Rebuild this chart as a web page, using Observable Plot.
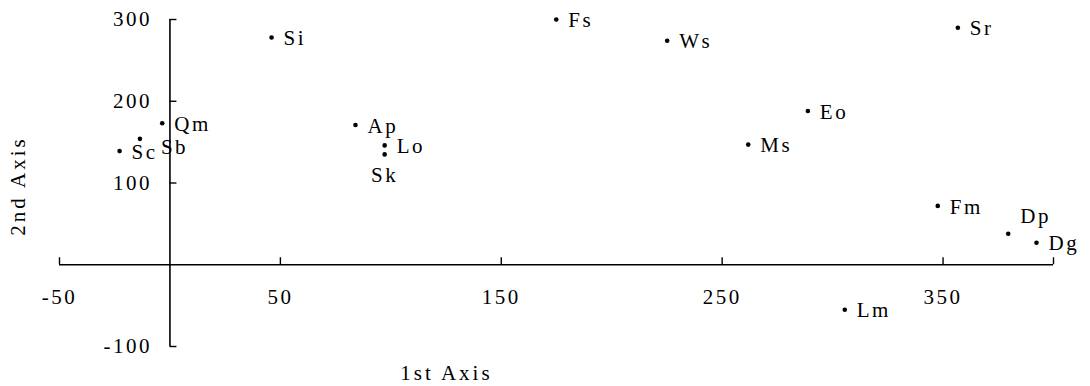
<!DOCTYPE html>
<html>
<head>
<meta charset="utf-8">
<script src="https://cdn.jsdelivr.net/npm/d3@7"></script>
<script src="https://cdn.jsdelivr.net/npm/@observablehq/plot@0.6"></script>
<style>
  html, body { margin: 0; padding: 0; background: #fff; }
  #chart svg { display: block; }
  g[aria-description="tick-label"] text { letter-spacing: 2.5px; }
  g[aria-description="point-label"] text { letter-spacing: 2.5px; }
  g[aria-description="axis-title"] text { letter-spacing: 3px; }
</style>
</head>
<body>
<div id="chart"></div>
<script>
// Data
const names  = ["Sc", "Sb", "Qm", "Si", "Ap", "Lo", "Sk", "Fs", "Ws", "Ms", "Eo", "Sr", "Fm", "Dp", "Dg", "Lm"];
const axis1  = [-22.8, -13.6, -3.5, 46.0, 84.0, 97.2, 97.2, 174.9, 225.1, 261.8, 288.8, 356.7, 347.6, 379.5, 392.3, 305.5];
const axis2  = [139, 154, 173, 278, 171, 146, 135, 300, 274, 147, 188, 290, 72, 38, 27, -55];
const xTicks = [-50, 50, 150, 250, 350];
const yTicks = [-100, 100, 200, 300];
const xDomain = [-50, 400];
const yDomain = [-100, 300];
const xTitle = "1st Axis";
const yTitle = "2nd Axis";

const points = names.map((n, i) => ({name: n, x: axis1[i], y: axis2[i]}));

// label placement groups (styling)
const below = ["Sk"];
const above = ["Dp"];
const shifted = ["Sb"];
const normal = points.filter(d => !below.includes(d.name) && !above.includes(d.name) && !shifted.includes(d.name));

const font = "'Liberation Serif', 'Times New Roman', serif";
const labelStyle = {fontSize: 21, fill: "black", ariaDescription: "point-label"};

const plot = Plot.plot({
  width: 1090,
  height: 386,
  marginLeft: 59,
  marginRight: 37,
  marginTop: 19,
  marginBottom: 40,
  style: {fontFamily: font, background: "white", overflow: "visible"},
  x: {domain: xDomain, axis: null},
  y: {domain: yDomain, axis: null},
  marks: [
    // axes lines
    Plot.ruleY([0], {x1: xDomain[0], x2: xDomain[1], stroke: "black", strokeWidth: 1.6}),
    Plot.ruleX([0], {y1: yDomain[0], y2: yDomain[1], stroke: "black", strokeWidth: 1.6}),
    // x ticks (pointing up)
    Plot.ruleX([...xTicks, xDomain[1]], {x: d => d, y1: () => 0, y2: () => 0, insetTop: -7, stroke: "black", strokeWidth: 1.4}),
    // y ticks (pointing right)
    Plot.ruleY(yTicks, {y: d => d, x1: () => 0, x2: () => 0, insetRight: -7, stroke: "black", strokeWidth: 1.4}),
    // tick labels
    Plot.text(xTicks, {x: d => d, y: () => 0, text: d => String(d), dy: 33, fontSize: 21, fill: "black", ariaDescription: "tick-label"}),
    Plot.text(yTicks, {x: () => 0, y: d => d, text: d => String(d), textAnchor: "end", dx: -18, fontSize: 21, fill: "black", ariaDescription: "tick-label"}),
    // points
    Plot.dot(points, {x: "x", y: "y", r: 2.3, fill: "black", stroke: null}),
    // labels
    Plot.text(normal, {x: "x", y: "y", text: "name", textAnchor: "start", dx: 12, dy: 1, ...labelStyle}),
    Plot.text(points.filter(d => shifted.includes(d.name)), {x: "x", y: "y", text: "name", textAnchor: "start", dx: 21, dy: 8, ...labelStyle}),
    Plot.text(points.filter(d => below.includes(d.name)), {x: "x", y: "y", text: "name", textAnchor: "middle", dx: 0, dy: 21, ...labelStyle}),
    Plot.text(points.filter(d => above.includes(d.name)), {x: "x", y: "y", text: "name", textAnchor: "start", dx: 12, dy: -17, ...labelStyle}),
    // axis titles
    Plot.text([xTitle], {frameAnchor: "bottom-left", dx: 387, dy: 27, lineAnchor: "middle", text: d => d, textAnchor: "middle", fontSize: 21, fill: "black", ariaDescription: "axis-title"}),
    Plot.text([yTitle], {frameAnchor: "left", dx: -41, dy: 3, lineAnchor: "middle", text: d => d, rotate: -90, textAnchor: "middle", fontSize: 21, fill: "black", ariaDescription: "axis-title"})
  ]
});

document.getElementById("chart").appendChild(plot);
</script>
</body>
</html>
